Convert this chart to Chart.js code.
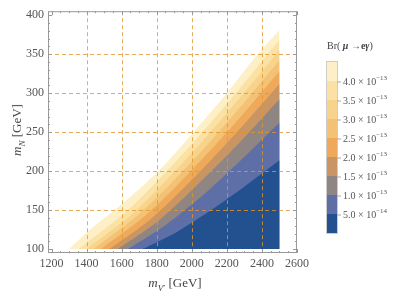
<!DOCTYPE html>
<html>
<head>
<meta charset="utf-8">
<script src="https://cdn.jsdelivr.net/npm/chart.js@4.4.0/dist/chart.umd.min.js"></script>
<style>
  body { margin: 0; background: #fff; }
  #wrap { position: relative; width: 407px; height: 296px; font-family: 'Liberation Serif', serif; color: #444; }
  #c { position: absolute; left: 0; top: 0; }
  .lbl { position: absolute; white-space: nowrap; }
  sub, sup { font-size: 70%; line-height: 0; }
</style>
</head>
<body>
<div id="wrap">
  <canvas id="c" width="407" height="296"></canvas>
  <div class="lbl" id="ytitle" style="left:17px; top:130px; font-size:13px; transform:translate(-50%,-50%) rotate(-90deg);"><i>m</i><sub><i>N</i></sub> [GeV]</div>
  <div class="lbl" id="xtitle" style="left:175px; top:283px; font-size:13px; transform:translate(-50%,-50%);"><i>m</i><sub><i>V</i>′</sub> [GeV]</div>
  <div class="lbl" id="ltitle" style="left:327px; top:40px; font-size:10px;">Br( <b><i>μ</i> →e<i>γ</i></b>)</div>
  <div id="bar"></div>
</div>
<script>
// axis ticks
var xTicks = [1200, 1400, 1600, 1800, 2000, 2200, 2400, 2600];
var yTicks = [100, 150, 200, 250, 300, 350, 400];
var xGrid = [1400, 1600, 1800, 2000, 2200, 2400];
var yGrid = [150, 200, 250, 300, 350];

// contour lines, [mV', mN]
var edgeTop = [[1300,100],[1420,125],[1560,150],[1800,198],[2006,249],[2200,300],[2377,350],[2500,381]];
var c40 = [[1355,100],[1641,151],[1928,217],[2214,290],[2500,368]];
var c35 = [[1400,100],[1675,148],[1950,211],[2225,281],[2500,355]];
var c30 = [[1440,100],[1705,146],[1970,205],[2235,271],[2500,342]];
var c25 = [[1480,100],[1735,143],[1990,199],[2245,261],[2500,328]];
var c20 = [[1530,100],[1773,140],[2015,192],[2258,250],[2500,312]];
var c15 = [[1578,100],[1809,136],[2039,184],[2270,236],[2500,292]];
var c10 = [[1635,100],[1851,131],[2068,170],[2284,215],[2500,262]];
var c05 = [[1720,100],[1915,122],[2110,150],[2305,181],[2500,214]];

// legend, top to bottom
var bandColors = ['#fdf0c7','#fbe1a3','#f8d38b','#f4c274','#eeaa5a','#c99562','#8f8582','#5d6fa6','#23508f'];
var levelMant = ['4.0','3.5','3.0','2.5','2.0','1.5','1.0','5.0'];
var levelExp = ['−13','−13','−13','−13','−13','−13','−13','−14'];

// drawn first = on top, so lowest contour first
var curves = [c05, c10, c15, c20, c25, c30, c35, c40, edgeTop];
var datasets = curves.map(function (pts, i) {
  return {
    data: pts.map(function (p) { return { x: p[0], y: p[1] }; }),
    backgroundColor: bandColors[bandColors.length - 1 - i],
    borderWidth: 0,
    pointRadius: 0,
    tension: 0.3,
    fill: { value: 100 }
  };
});

var overlay = {
  id: 'overlay',
  afterDatasetsDraw: function (chart) {
    var ctx = chart.ctx, a = chart.chartArea, x = chart.scales.x, y = chart.scales.y;
    ctx.save();
    ctx.strokeStyle = 'rgba(226,150,45,0.8)';
    ctx.lineWidth = 1;
    ctx.setLineDash([4, 3]);
    xGrid.forEach(function (v) {
      var px = Math.round(x.getPixelForValue(v)) + 0.5;
      ctx.beginPath(); ctx.moveTo(px, a.top); ctx.lineTo(px, a.bottom); ctx.stroke();
    });
    yGrid.forEach(function (v) {
      var py = Math.round(y.getPixelForValue(v)) + 0.5;
      ctx.beginPath(); ctx.moveTo(a.left, py); ctx.lineTo(a.right, py); ctx.stroke();
    });
    ctx.setLineDash([]);
    ctx.strokeStyle = '#999';
    ctx.strokeRect(a.left + 0.5, a.top + 0.5, a.width - 1, a.height - 1);
    ctx.beginPath();
    for (var v = 1200; v <= 2600; v += 50) {
      var px = Math.round(x.getPixelForValue(v)) + 0.5;
      var len = v % 200 === 0 ? 4 : 2;
      ctx.moveTo(px, a.bottom); ctx.lineTo(px, a.bottom - len);
      ctx.moveTo(px, a.top); ctx.lineTo(px, a.top + len);
    }
    for (var w = 100; w <= 400; w += 10) {
      var py = Math.round(y.getPixelForValue(w)) + 0.5;
      var l2 = w % 50 === 0 ? 4 : 2;
      ctx.moveTo(a.left, py); ctx.lineTo(a.left + l2, py);
      ctx.moveTo(a.right, py); ctx.lineTo(a.right - l2, py);
    }
    ctx.stroke();
    ctx.restore();
  }
};

new Chart(document.getElementById('c'), {
  type: 'line',
  data: { datasets: datasets },
  options: {
    responsive: false,
    animation: false,
    layout: { padding: { top: 4, right: 110, left: 0, bottom: 0 } },
    plugins: { legend: { display: false }, tooltip: { enabled: false } },
    scales: {
      x: {
        type: 'linear', min: 1180, max: 2600,
        grid: { display: false, drawTicks: false },
        border: { display: false },
        afterBuildTicks: function (s) { s.ticks = xTicks.map(function (v) { return { value: v }; }); },
        afterFit: function (s) { s.height = 43; },
        ticks: { padding: 4, color: '#555', font: { family: 'Liberation Serif', size: 12 }, maxRotation: 0,
                 callback: function (v) { return String(v); } }
      },
      y: {
        type: 'linear', min: 95, max: 405,
        grid: { display: false, drawTicks: false },
        border: { display: false },
        afterBuildTicks: function (s) { s.ticks = yTicks.map(function (v) { return { value: v }; }); },
        afterFit: function (s) { s.width = 48; },
        ticks: { padding: 4, color: '#555', font: { family: 'Liberation Serif', size: 12 },
                 callback: function (v) { return String(v); } }
      }
    }
  },
  plugins: [overlay]
});

// colour bar legend
var bar = document.getElementById('bar');
var barTop = 62, cell = 19;
bandColors.forEach(function (c, i) {
  var d = document.createElement('div');
  d.style.cssText = 'position:absolute;left:327px;width:10px;top:' + (barTop + i * cell) + 'px;height:' + cell + 'px;background:' + c;
  bar.appendChild(d);
});
var frame = document.createElement('div');
frame.style.cssText = 'position:absolute;left:326px;width:10px;top:' + (barTop - 1) + 'px;height:' + (bandColors.length * cell) + 'px;border:1px solid #ccc';
bar.appendChild(frame);
levelMant.forEach(function (m, i) {
  var yb = barTop + (i + 1) * cell;
  var t = document.createElement('div');
  t.className = 'lbl';
  t.style.cssText += 'left:337px;top:' + yb + 'px;font-size:10px;color:#555;transform:translateY(-50%);';
  t.innerHTML = '<span style="display:inline-block;width:4px;border-top:1px solid #aaa;vertical-align:middle;margin-right:2px"></span>' + m + ' × 10<sup>' + levelExp[i] + '</sup>';
  bar.appendChild(t);
});
</script>
</body>
</html>
